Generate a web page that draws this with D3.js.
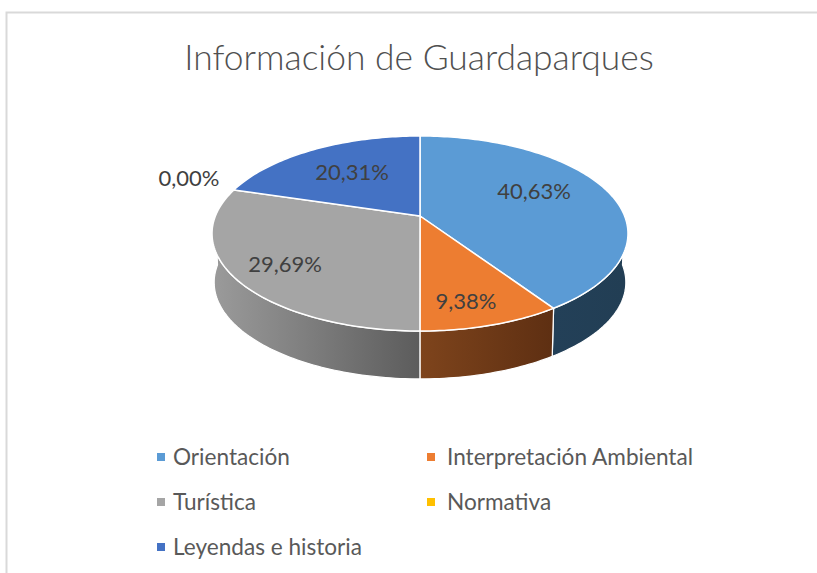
<!DOCTYPE html>
<html>
<head>
<meta charset="utf-8">
<script src="https://cdnjs.cloudflare.com/ajax/libs/d3/7.8.5/d3.min.js"></script>
<style>
  html, body { margin: 0; padding: 0; background: #fff; }
  svg { display: block; font-family: Lato, sans-serif; }
</style>
</head>
<body>
<div id="chart"></div>
<script>
var categories = ["Orientación", "Interpretación Ambiental", "Turística", "Normativa", "Leyendas e historia"];
var values = [40.63, 9.38, 29.69, 0, 20.31];
var colors = ["#5B9BD5", "#ED7D31", "#A5A5A5", "#FFC000", "#4472C4"];
var title = "Información de Guardaparques";

var svgWidth = 817;
var svgHeight = 573;

// where the labels sit, Excel "best fit" is not regular
var labelSpots = [[534, 191], [466, 301], [285, 264], [189, 178], [352, 172]];
var wallStops = [
  ["#234058", "#223E54"],
  ["#7E441C", "#5E2F12"],
  ["#9A9A9A", "#5C5C5C"],
  ["#7F6000", "#7F6000"],
  ["#2A4476", "#2A4476"]
];

var svg = d3.select("#chart")
  .append("svg")
  .attr("width", svgWidth)
  .attr("height", svgHeight);

// chart frame, only top and left show in the crop
svg.append("path")
  .attr("d", "M6.5,573V12.5H817")
  .attr("fill", "none")
  .attr("stroke", "#D9D9D9")
  .attr("stroke-width", 2);

svg.append("text")
  .attr("x", 419)
  .attr("y", 70)
  .attr("text-anchor", "middle")
  .attr("font-size", 35.4)
  .attr("font-weight", 300)
  .attr("fill", "#505050")
  .text(title);

// perspective of the tilted disc
var tilt = 0.1795;
var xScale = d3.scaleLinear().domain([-1, 1]).range([215.4, 624.6]);
var yScale = d3.scaleLinear().domain([-1, 1]).range([121.6, 310.4]);
var xBottom = d3.scaleLinear().domain([-1, 1]).range([217.5, 622.5]);
var yBottom = d3.scaleLinear().domain([-1, 1]).range([171.5, 358.5]);

function project(angle, sx, sy) {
  var u = Math.sin(angle);
  var v = -Math.cos(angle);
  var w = 1 / (1 - tilt * v);
  return [sx(u * w), sy(v * w)];
}

function arcPoints(a0, a1, sx, sy) {
  var n = Math.max(2, Math.ceil((a1 - a0) / 0.02));
  return d3.range(n + 1).map(function(i) {
    return project(a0 + (a1 - a0) * i / n, sx, sy);
  });
}

var line = d3.line();

var pie = d3.pie().sort(null)(values);

var defs = svg.append("defs");
pie.forEach(function(d, i) {
  var x0 = project(Math.max(d.startAngle, Math.PI / 2), xScale, yScale)[0];
  var x1 = project(Math.min(d.endAngle, Math.PI * 1.5), xScale, yScale)[0];
  var grad = defs.append("linearGradient")
    .attr("id", "wall" + i)
    .attr("gradientUnits", "userSpaceOnUse")
    .attr("x1", Math.min(x0, x1))
    .attr("x2", Math.max(x0, x1))
    .attr("y1", 0)
    .attr("y2", 0);
  grad.append("stop").attr("offset", 0).attr("stop-color", wallStops[i][0]);
  grad.append("stop").attr("offset", 1).attr("stop-color", wallStops[i][1]);
});

// side walls first, only the front half of the disc
var walls = pie.filter(function(d) {
  return d.endAngle > Math.PI / 2 && d.startAngle < Math.PI * 1.5 && d.value > 0;
});

svg.append("g").selectAll("path")
  .data(walls)
  .enter()
  .append("path")
  .attr("d", function(d) {
    var a0 = Math.max(d.startAngle, Math.PI / 2);
    var a1 = Math.min(d.endAngle, Math.PI * 1.5);
    var pts = arcPoints(a0, a1, xScale, yScale)
      .concat(arcPoints(a0, a1, xBottom, yBottom).reverse());
    return line(pts) + "Z";
  })
  .attr("fill", function(d) { return "url(#wall" + d.index + ")"; })
  .attr("stroke", "#fff")
  .attr("stroke-width", 1.25);

// top of the disc
svg.append("g").selectAll("path")
  .data(pie.filter(function(d) { return d.value > 0; }))
  .enter()
  .append("path")
  .attr("d", function(d) {
    var pts = [[xScale(0), yScale(0)]].concat(arcPoints(d.startAngle, d.endAngle, xScale, yScale));
    return line(pts) + "Z";
  })
  .attr("fill", function(d) { return colors[d.index]; })
  .attr("stroke", "#fff")
  .attr("stroke-width", 1.5)
  .attr("stroke-linejoin", "round");

svg.append("g").selectAll("text")
  .data(values)
  .enter()
  .append("text")
  .attr("x", function(d, i) { return labelSpots[i][0]; })
  .attr("y", function(d, i) { return labelSpots[i][1]; })
  .attr("dy", "0.35em")
  .attr("text-anchor", "middle")
  .attr("font-size", 22)
  .attr("fill", "#404040")
  .text(function(d) { return d.toFixed(2).replace(".", ",") + "%"; });

// legend, two columns
var legendX = d3.scalePoint().domain([0, 1]).range([157, 427]);
var legendY = d3.scalePoint().domain([0, 1, 2]).range([457, 547]);

var legend = svg.append("g").selectAll("g")
  .data(categories)
  .enter()
  .append("g")
  .attr("transform", function(d, i) {
    return "translate(" + legendX(i % 2) + "," + legendY(Math.floor(i / 2)) + ")";
  });

legend.append("rect")
  .attr("x", 0)
  .attr("y", -4)
  .attr("width", 8)
  .attr("height", 8)
  .attr("fill", function(d, i) { return colors[i]; });

legend.append("text")
  .attr("x", function(d, i) { return i % 2 ? 20 : 16; })
  .attr("dy", "0.35em")
  .attr("font-size", 22.6)
  .attr("fill", "#595959")
  .text(function(d) { return d; });
</script>
</body>
</html>
